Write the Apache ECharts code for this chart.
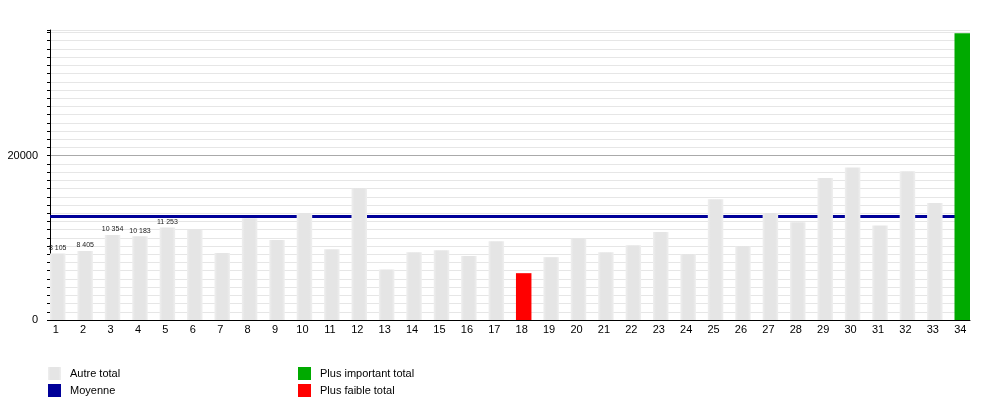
<!DOCTYPE html>
<html>
<head>
<meta charset="utf-8">
<title>Totaux</title>
<script src="https://cdn.jsdelivr.net/npm/echarts@6/dist/echarts.min.js"></script>
<style>
  html, body { margin: 0; padding: 0; background: #fff; }
  #chart { width: 1000px; height: 400px; }
</style>
</head>
<body>
<div id="chart"></div>
<script>
// categories 1..34
const categories = ['1', '2', '3', '4', '5', '6', '7', '8', '9', '10', '11', '12', '13', '14', '15', '16', '17',
  '18', '19', '20', '21', '22', '23', '24', '25', '26', '27', '28', '29', '30', '31', '32', '33', '34'];
// totaux
const totals = [8105, 8405, 10354, 10183, 11253, 10950, 8150, 12400, 9750, 13000, 8600, 16000, 6150, 8250,
  8500, 7800, 9600, 5700, 7650, 9900, 8250, 9100, 10700, 8000, 14700, 8950, 13000, 11900, 17300, 18550,
  11500, 18100, 14250, 34900];
const meanValue = 12600;
const labelledBars = 5; // seuls les 5 premiers ont une étiquette
const yTicks = [0, 20000];

const font = 'Liberation Sans, Arial, sans-serif';
const maxIdx = totals.indexOf(Math.max(...totals));
const minIdx = totals.indexOf(Math.min(...totals));

const otherData = totals.map((v, i) => (i === maxIdx || i === minIdx ? '-' : v));
const highData = totals.map((v, i) => (i === maxIdx ? v : '-'));
const lowData = totals.map((v, i) => (i === minIdx ? v : '-'));

const fmt = v => String(v).replace(/\B(?=(\d{3})+(?!\d))/g, ' ');

const greyFill = new echarts.graphic.LinearGradient(0, 0, 1, 0, [
  { offset: 0, color: '#efefef' },
  { offset: 0.18, color: '#e5e5e5' },
  { offset: 0.82, color: '#e5e5e5' },
  { offset: 1, color: '#efefef' }
]);

// lignes de grille : 20000 plus foncée
const gridColors = ['#aaaaaa'].concat(new Array(19).fill('#e6e6e6'));

const legendBase = {
  top: 367, orient: 'vertical', padding: 0, itemWidth: 13, itemHeight: 13, itemGap: 4,
  selectedMode: false, icon: 'rect',
  textStyle: { fontSize: 11, color: '#000', fontFamily: font, padding: [2, 0, 0, 4] }
};

const chart = echarts.init(document.getElementById('chart'));
chart.setOption({
  backgroundColor: '#fff',
  animation: false,
  textStyle: { fontFamily: font },
  grid: [
    { left: 50, top: 30, width: 920, height: 290 },
    { left: 57.75, top: 30, width: 904.5, height: 290 }
  ],
  legend: [
    Object.assign({ left: 48, data: ['Autre total', 'Moyenne'] }, legendBase),
    Object.assign({ left: 298, data: ['Plus important total', 'Plus faible total'] }, legendBase)
  ],
  xAxis: [
    {
      type: 'value', gridIndex: 0, min: 0, max: 1,
      axisLine: { show: true, lineStyle: { color: '#000', width: 1 } },
      axisTick: { show: false }, axisLabel: { show: false }, splitLine: { show: false }
    },
    {
      type: 'category', gridIndex: 1, data: categories, boundaryGap: false,
      axisLine: { show: false }, axisTick: { show: false },
      axisLabel: { fontSize: 11, color: '#000', margin: 4, padding: [0, 4, 0, 0], fontFamily: font, interval: 0 },
      splitLine: { show: false }
    }
  ],
  yAxis: [
    {
      type: 'value', gridIndex: 0, min: 0, max: 35300, interval: 1000,
      axisLine: { show: true, lineStyle: { color: '#000', width: 1 } },
      axisTick: { show: true, length: 3, lineStyle: { color: '#000' } },
      axisLabel: {
        fontSize: 11, color: '#000', margin: 12, fontFamily: font,
        formatter: v => (yTicks.indexOf(v) >= 0 ? String(v) : '')
      },
      splitLine: { show: true, lineStyle: { color: gridColors, width: 1 } }
    },
    {
      type: 'value', gridIndex: 1, min: 0, max: 35300, show: false,
      splitLine: { show: false }
    }
  ],
  series: [
    {
      name: 'Moyenne', type: 'line', xAxisIndex: 0, yAxisIndex: 0, z: 1,
      data: [], itemStyle: { color: '#000099' }, lineStyle: { color: '#000099' },
      markLine: {
        silent: true, symbol: 'none', z: 1, label: { show: false },
        lineStyle: { color: '#000099', width: 3, type: 'solid' },
        data: [{ yAxis: meanValue }]
      }
    },
    {
      name: 'Autre total', type: 'bar', xAxisIndex: 1, yAxisIndex: 1, stack: 'total', barWidth: 15.5, z: 3,
      data: otherData, itemStyle: { color: greyFill },
      label: {
        show: true, position: 'top', distance: 2, fontSize: 7, color: '#222', fontFamily: font,
        formatter: p => (p.dataIndex < labelledBars ? fmt(p.value) : '')
      }
    },
    {
      name: 'Plus important total', type: 'bar', xAxisIndex: 1, yAxisIndex: 1, stack: 'total', barWidth: 15.5, z: 3,
      data: highData, itemStyle: { color: '#00aa00' }
    },
    {
      name: 'Plus faible total', type: 'bar', xAxisIndex: 1, yAxisIndex: 1, stack: 'total', barWidth: 15.5, z: 3,
      data: lowData, itemStyle: { color: '#ff0000' }
    }
  ]
});
</script>
</body>
</html>
